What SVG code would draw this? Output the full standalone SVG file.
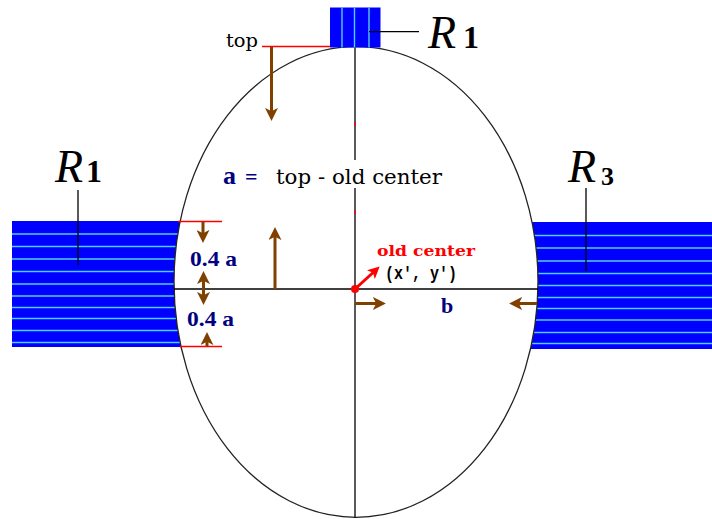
<svg xmlns="http://www.w3.org/2000/svg" width="712" height="519" viewBox="0 0 712 519">
<style>
.blk{fill:#0000ff}
.lb{stroke:#55ccff;stroke-width:1.4}
.ln{stroke:#000;stroke-width:1.3;fill:none}
.red{stroke:#ff0000;stroke-width:1.5}
.br{stroke:#804000;stroke-width:3;fill:none}
.rl{font-family:"Liberation Serif",serif;font-style:italic;fill:#000}
.num{font-family:"Liberation Serif",serif;font-weight:bold;fill:#000}
.nv{font-family:"Liberation Serif",serif;font-weight:bold;fill:#000080}
.tx{font-family:"DejaVu Serif",serif;fill:#000}
</style>
<defs>
<marker id="ah" viewBox="0 0 10 10" refX="7" refY="5" markerWidth="13" markerHeight="13" markerUnits="userSpaceOnUse" orient="auto-start-reverse">
<path d="M0,0 L10,5 L0,10 L2.5,5 z" fill="#804000"/>
</marker>
<marker id="ahr" viewBox="0 0 10 10" refX="7" refY="5" markerWidth="12" markerHeight="12" markerUnits="userSpaceOnUse" orient="auto">
<path d="M0,0 L10,5 L0,10 L2.5,5 z" fill="#ff0000"/>
</marker>
</defs>
<rect width="712" height="519" fill="#fff"/>

<g id="R1-left-block">
<rect class="blk" x="12" y="221" width="180" height="126"/>
<g class="lb">
<line x1="12" y1="234" x2="192" y2="234"/><line x1="12" y1="246.5" x2="192" y2="246.5"/>
<line x1="12" y1="259" x2="192" y2="259"/><line x1="12" y1="271.5" x2="192" y2="271.5"/>
<line x1="12" y1="284" x2="192" y2="284"/><line x1="12" y1="296" x2="192" y2="296"/>
<line x1="12" y1="307.5" x2="192" y2="307.5"/><line x1="12" y1="318.5" x2="192" y2="318.5"/>
<line x1="12" y1="330.5" x2="192" y2="330.5"/><line x1="12" y1="342.5" x2="192" y2="342.5"/>
</g>
</g>

<g id="R3-block">
<rect class="blk" x="520" y="222" width="192" height="127"/>
<g class="lb">
<line x1="520" y1="235.5" x2="712" y2="235.5"/><line x1="520" y1="248" x2="712" y2="248"/>
<line x1="520" y1="261" x2="712" y2="261"/><line x1="520" y1="273.5" x2="712" y2="273.5"/>
<line x1="520" y1="285.5" x2="712" y2="285.5"/><line x1="520" y1="297.5" x2="712" y2="297.5"/>
<line x1="520" y1="308.5" x2="712" y2="308.5"/><line x1="520" y1="320" x2="712" y2="320"/>
<line x1="520" y1="332.5" x2="712" y2="332.5"/><line x1="520" y1="343.5" x2="712" y2="343.5"/>
</g>
</g>

<g id="ellipse">
<ellipse cx="356" cy="282" rx="182" ry="235.3" fill="#fff" stroke="#222" stroke-width="1.3"/>
</g>

<g id="R1-top-block">
<rect class="blk" x="330" y="7.5" width="50.5" height="40"/>
<g class="lb">
<line x1="342" y1="7.5" x2="342" y2="47.5"/>
<line x1="354.5" y1="7.5" x2="354.5" y2="47.5"/>
<line x1="369" y1="7.5" x2="369" y2="47.5"/>
</g>
</g>

<g id="axes">
<line class="ln" x1="174" y1="289" x2="538" y2="289"/>
<line class="ln" x1="355" y1="47.5" x2="355" y2="160"/>
<line class="ln" x1="355" y1="188" x2="355" y2="517.5"/>
<line class="red" x1="355" y1="122.5" x2="355" y2="126"/>
<line class="red" x1="355" y1="211" x2="355" y2="214"/>
<line class="red" x1="262" y1="46.5" x2="330" y2="46.5"/>
<line class="red" x1="178" y1="221.5" x2="222" y2="221.5"/>
<line class="red" x1="180" y1="346.5" x2="222" y2="346.5"/>
</g>

<g id="connectors">
<line class="ln" x1="369" y1="31.7" x2="419" y2="31.7"/>
<line class="ln" x1="78" y1="190" x2="78" y2="265"/>
<line class="ln" x1="586" y1="188" x2="586" y2="271"/>
<line class="br" x1="271.5" y1="47" x2="271.5" y2="117" marker-end="url(#ah)"/>
<line class="br" x1="203" y1="222" x2="203" y2="239" marker-end="url(#ah)"/>
<line class="br" x1="203.5" y1="275" x2="203.5" y2="301" marker-start="url(#ah)" marker-end="url(#ah)"/>
<line class="br" x1="207" y1="346" x2="207" y2="336" marker-end="url(#ah)"/>
<line class="br" x1="275" y1="289" x2="275" y2="231" marker-end="url(#ah)"/>
<line class="br" x1="355" y1="303.5" x2="382" y2="303.5" marker-end="url(#ah)"/>
<line class="br" x1="537" y1="303.5" x2="513" y2="303.5" marker-end="url(#ah)"/>
<line x1="355" y1="289" x2="377" y2="269" stroke="#ff0000" stroke-width="3" marker-end="url(#ahr)"/>
<circle cx="355" cy="289" r="4" fill="#ff0000"/>
</g>

<g id="labels">
<text class="tx" x="226" y="46.5" font-size="18" textLength="32" lengthAdjust="spacingAndGlyphs">top</text>
<text class="rl" x="428" y="48" font-size="46">R</text>
<text class="num" x="463" y="48" font-size="32">1</text>
<text class="rl" x="55" y="182" font-size="46">R</text>
<text class="num" x="86" y="182" font-size="32">1</text>
<text class="rl" x="568" y="182" font-size="46">R</text>
<text class="num" x="601" y="185" font-size="26">3</text>
<text class="nv" x="223" y="184" font-size="26">a</text>
<text class="nv" x="245" y="184" font-size="22">=</text>
<text class="tx" x="276" y="183.5" font-size="21" textLength="166" lengthAdjust="spacingAndGlyphs">top - old center</text>
<text class="nv" x="190" y="266" font-size="21" textLength="47" lengthAdjust="spacingAndGlyphs">0.4 a</text>
<text class="nv" x="187" y="326" font-size="21" textLength="47" lengthAdjust="spacingAndGlyphs">0.4 a</text>
<text x="377" y="255.5" font-family="DejaVu Serif, serif" font-weight="bold" font-size="15" fill="#ff0000" textLength="98" lengthAdjust="spacingAndGlyphs">old center</text>
<text x="385" y="279" font-family="Liberation Mono, monospace" font-weight="bold" font-size="18" fill="#000" textLength="72" lengthAdjust="spacingAndGlyphs">(x', y')</text>
<text class="nv" x="441" y="313" font-size="22">b</text>
</g>
</svg>
